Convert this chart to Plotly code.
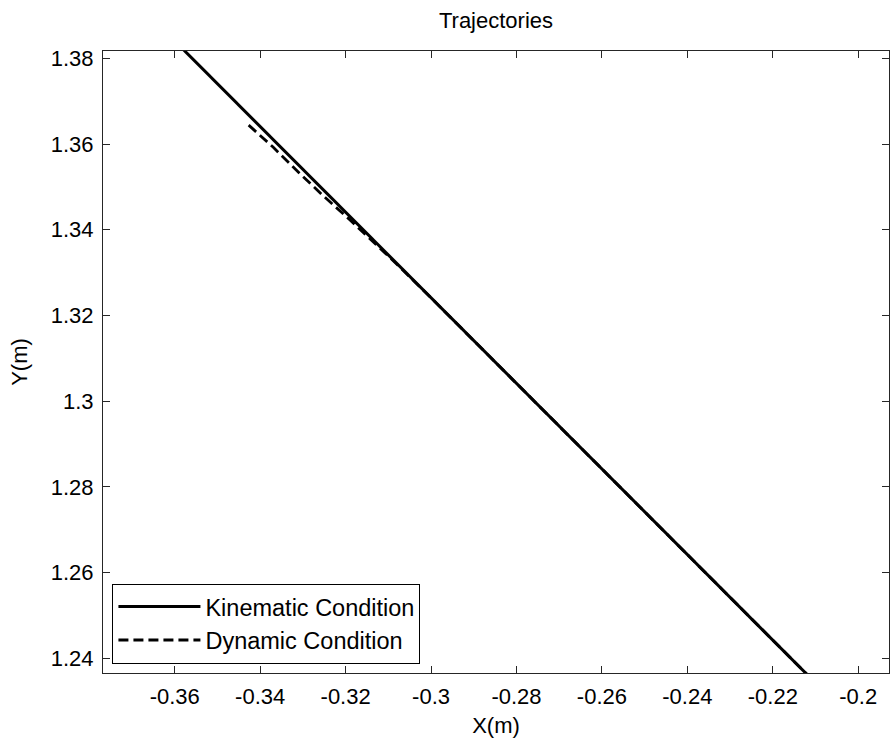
import plotly.graph_objects as go

# ---- data ----
kin_x = [-0.3600, -0.3425, -0.3300, -0.3150, -0.3000, -0.2850, -0.2700,
         -0.2550, -0.2400, -0.2250, -0.2100]
kin_y = [1.38404, 1.36657, 1.35409, 1.33911, 1.32414, 1.30916, 1.29419,
         1.27921, 1.26423, 1.24926, 1.23428]

dyn_x = [-0.3427, -0.3370, -0.3308, -0.3250, -0.3191, -0.3130, -0.3074,
         -0.3000, -0.2900, -0.2800, -0.2700, -0.2550, -0.2400, -0.2250, -0.2100]
dyn_y = [1.36440, 1.35930, 1.35320, 1.34770, 1.34240, 1.33670, 1.33140,
         1.32410, 1.31418, 1.30417, 1.29419, 1.27921, 1.26423, 1.24926, 1.23428]

x_ticks = [-0.36, -0.34, -0.32, -0.30, -0.28, -0.26, -0.24, -0.22, -0.20]
x_ticktext = ["-0.36", "-0.34", "-0.32", "-0.3", "-0.28", "-0.26", "-0.24", "-0.22", "-0.2"]
y_ticks = [1.24, 1.26, 1.28, 1.30, 1.32, 1.34, 1.36, 1.38]
y_ticktext = ["1.24", "1.26", "1.28", "1.3", "1.32", "1.34", "1.36", "1.38"]

x_range = [-0.3768, -0.1928]
y_range = [1.2366, 1.3817]

FONT = "Liberation Sans, Arial, sans-serif"

fig = go.Figure()
fig.add_trace(go.Scatter(x=kin_x, y=kin_y, mode="lines", name="Kinematic Condition",
                         line=dict(color="black", width=3), legendgroup="a"))
fig.add_trace(go.Scatter(x=dyn_x, y=dyn_y, mode="lines", name="Dynamic Condition",
                         line=dict(color="black", width=2.8, dash="10px,5px"), legendgroup="b"))

axis_common = dict(showgrid=False, zeroline=False, showline=True, linecolor="#262626",
                   linewidth=1, mirror="ticks", ticks="inside", ticklen=7, tickwidth=1,
                   tickcolor="#262626", tickfont=dict(family=FONT, size=22, color="black"))

fig.update_layout(
    width=890, height=738,
    margin=dict(l=103, r=1, t=51, b=65),
    paper_bgcolor="white", plot_bgcolor="white",
    font=dict(family=FONT, size=22, color="black"),
    title=dict(text="Trajectories", x=0.5, xref="paper", xanchor="center",
               y=1 - 20 / 738, yref="container", yanchor="middle",
               font=dict(family=FONT, size=22, color="black")),
    xaxis=dict(range=x_range, tickvals=x_ticks, ticktext=x_ticktext,
               title=dict(text="X(m)", standoff=9, font=dict(family=FONT, size=22)),
               ticklabelstandoff=4, **axis_common),
    yaxis=dict(range=y_range, tickvals=y_ticks, ticktext=y_ticktext,
               title=dict(text="Y(m)", standoff=17, font=dict(family=FONT, size=22)),
               ticklabelstandoff=4, **axis_common),
    legend=dict(x=0.012, y=0.015, xanchor="left", yanchor="bottom",
                bgcolor="white", bordercolor="black", borderwidth=1,
                font=dict(family=FONT, size=23.5, color="black"),
                itemwidth=82, tracegroupgap=0),
    showlegend=True,
)

fig.write_html("out.html", config={"displayModeBar": False},
               post_script="document.body.style.margin='0px';document.body.style.overflow='hidden';")
